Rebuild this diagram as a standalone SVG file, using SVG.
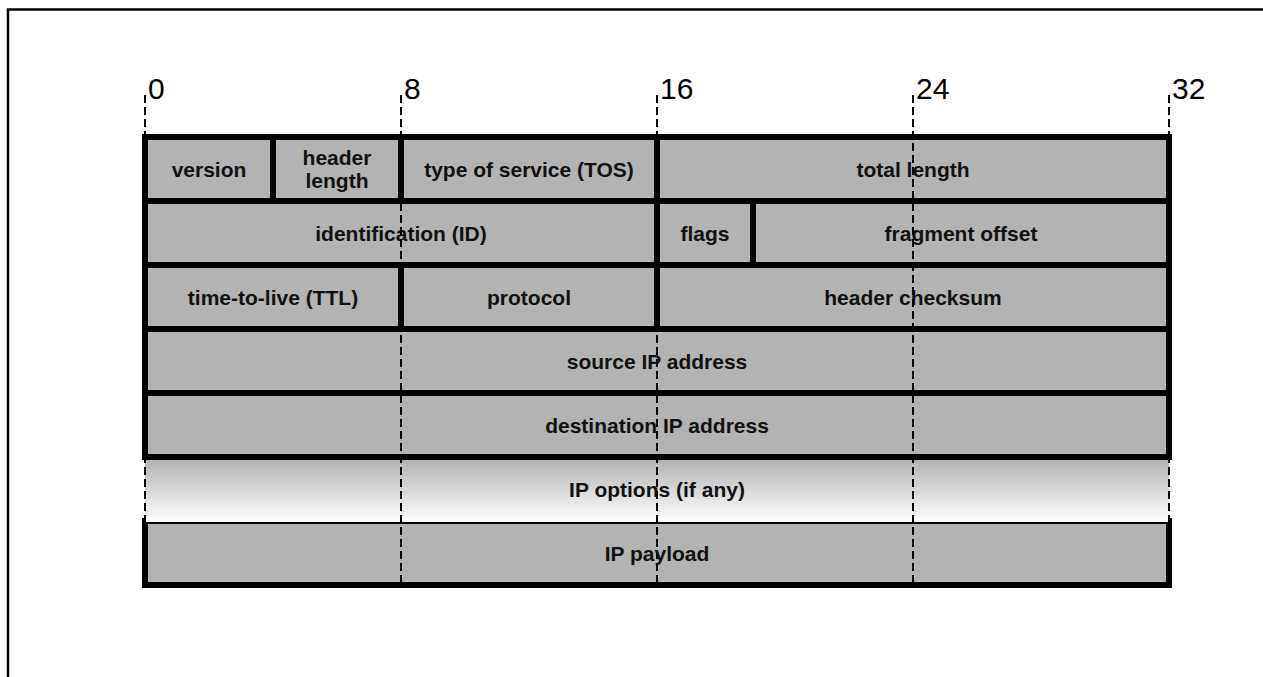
<svg xmlns="http://www.w3.org/2000/svg" width="1263" height="677" viewBox="0 0 1263 677">
<style>
.cell{fill:#b3b3b3;stroke:#000;stroke-width:6}
.lbl{font-family:"Liberation Sans",Arial,sans-serif;font-weight:bold;font-size:21px;fill:#111;text-anchor:middle}
.num{font-family:"Liberation Sans",Arial,sans-serif;font-size:30px;fill:#000}
.dash{stroke:#000;stroke-width:2;stroke-dasharray:8,4;fill:none}
</style>
<defs>
<linearGradient id="optGrad" x1="0" y1="0" x2="0" y2="1">
<stop offset="0" stop-color="#b3b3b3"/>
<stop offset="1" stop-color="#ffffff"/>
</linearGradient>
</defs>
<rect x="0" y="0" width="1263" height="677" fill="#fff"/>
<rect x="8" y="9.5" width="1300" height="700" fill="none" stroke="#000" stroke-width="2.5"/>

<g id="row1">
<g id="version"><rect class="cell" x="145" y="137" width="128" height="64"/><text class="lbl" x="209" y="176.5">version</text></g>
<g id="header-length"><rect class="cell" x="273" y="137" width="128" height="64"/><text class="lbl" x="337" y="165">header</text><text class="lbl" x="337" y="188">length</text></g>
<g id="tos"><rect class="cell" x="401" y="137" width="256" height="64"/><text class="lbl" x="529" y="176.5">type of service (TOS)</text></g>
<g id="total-length"><rect class="cell" x="657" y="137" width="512" height="64"/><text class="lbl" x="913" y="176.5">total length</text></g>
</g>
<g id="row2">
<g id="identification"><rect class="cell" x="145" y="201" width="512" height="64"/><text class="lbl" x="401" y="240.5">identification (ID)</text></g>
<g id="flags"><rect class="cell" x="657" y="201" width="96" height="64"/><text class="lbl" x="705" y="240.5">flags</text></g>
<g id="fragment-offset"><rect class="cell" x="753" y="201" width="416" height="64"/><text class="lbl" x="961" y="240.5">fragment offset</text></g>
</g>
<g id="row3">
<g id="ttl"><rect class="cell" x="145" y="265" width="256" height="64"/><text class="lbl" x="273" y="304.5">time-to-live (TTL)</text></g>
<g id="protocol"><rect class="cell" x="401" y="265" width="256" height="64"/><text class="lbl" x="529" y="304.5">protocol</text></g>
<g id="checksum"><rect class="cell" x="657" y="265" width="512" height="64"/><text class="lbl" x="913" y="304.5">header checksum</text></g>
</g>
<g id="source"><rect class="cell" x="145" y="329" width="1024" height="64"/></g>
<g id="destination"><rect class="cell" x="145" y="393" width="1024" height="64"/></g>
<g id="payload"><rect class="cell" x="145" y="521" width="1024" height="64"/></g>
<g id="options"><rect x="145" y="460" width="1024" height="62" fill="url(#optGrad)"/></g>

<g id="connectors">
<line class="dash" x1="145" y1="95" x2="145" y2="585"/>
<line class="dash" x1="401" y1="95" x2="401" y2="585"/>
<line class="dash" x1="657" y1="95" x2="657" y2="585"/>
<line class="dash" x1="913" y1="95" x2="913" y2="585"/>
<line class="dash" x1="1169" y1="95" x2="1169" y2="585"/>
</g>

<g id="labels">
<text class="lbl" x="657" y="368.5">source IP address</text>
<text class="lbl" x="657" y="432.5">destination IP address</text>
<text class="lbl" x="657" y="497">IP options (if any)</text>
<text class="lbl" x="657" y="560.5">IP payload</text>
</g>

<g id="bit-numbers">
<text class="num" x="148" y="99">0</text>
<text class="num" x="404" y="99">8</text>
<text class="num" x="660" y="99">16</text>
<text class="num" x="916" y="99">24</text>
<text class="num" x="1172" y="99">32</text>
</g>
</svg>
